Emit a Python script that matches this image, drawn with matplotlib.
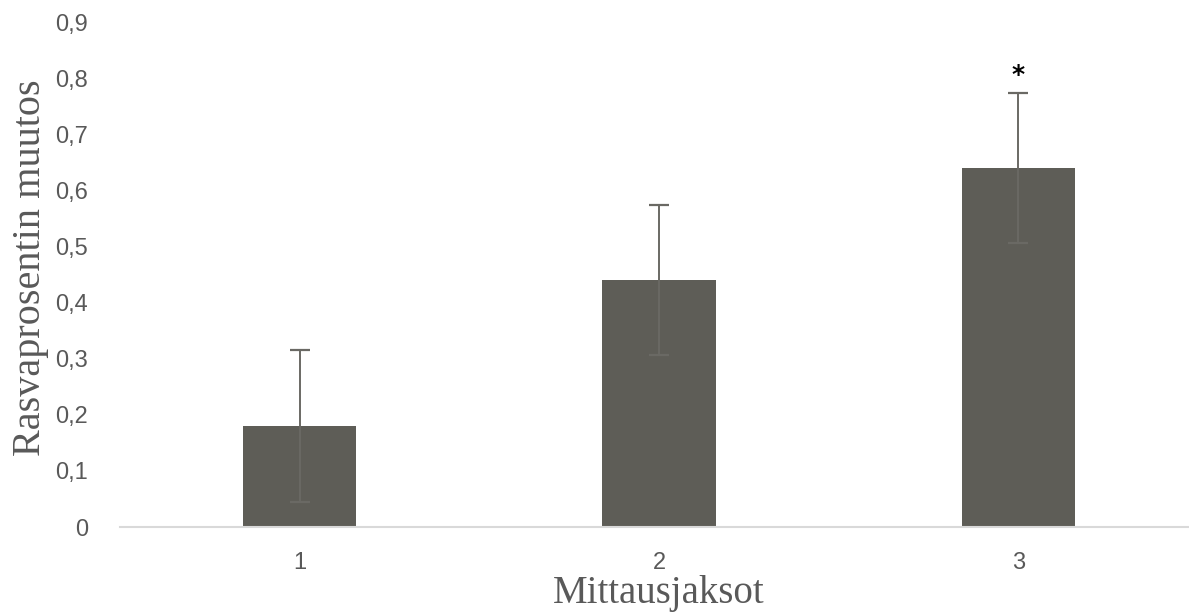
import matplotlib.pyplot as plt
from matplotlib.ticker import FuncFormatter

# data
periods = ["1", "2", "3"]
means = [0.18, 0.44, 0.64]
errors = [0.135, 0.133, 0.133]
yticks = [0, 0.1, 0.2, 0.3, 0.4, 0.5, 0.6, 0.7, 0.8, 0.9]
star_period = 3
star_y = 0.805

fig = plt.figure(figsize=(11.89, 6.14), dpi=100)
ax = fig.add_axes([120 / 1189, 87 / 614, 1078 / 1189, 505 / 614])

x = [1, 2, 3]
ax.bar(x, means, width=0.315, color="#5e5d57", zorder=2)
ax.errorbar(x, means, yerr=errors, fmt="none", ecolor="#6a6964",
            elinewidth=1.4, capsize=7, capthick=1.6, zorder=3)
ax.text(star_period, star_y, "*", ha="center", va="center",
        fontsize=18, fontweight="bold", color="black")

ax.set_xlim(0.5, 3.5)
ax.set_ylim(0, 0.9)
ax.set_xticks(x)
ax.set_xticklabels(periods)
ax.set_yticks(yticks)
ax.yaxis.set_major_formatter(FuncFormatter(
    lambda v, p: "0" if v == 0 else f"{v:.1f}".replace(".", ",")))

for s in ["top", "right", "left"]:
    ax.spines[s].set_visible(False)
ax.spines["bottom"].set_color("#d9d9d9")
ax.spines["bottom"].set_linewidth(1.5)
ax.tick_params(length=0, labelsize=17, labelcolor="#595959",
               labelfontfamily="Liberation Sans")
ax.tick_params(axis="y", pad=23)
ax.tick_params(axis="x", pad=18)

ax.set_xlabel("Mittausjaksot", fontsize=28, family="Liberation Serif",
              color="#595959", labelpad=1)
ax.set_ylabel("Rasvaprosentin muutos", fontsize=29, family="Liberation Serif",
              color="#595959")
ax.yaxis.set_label_coords(-0.066, 0.513)

fig.savefig("out.png", dpi=100)
